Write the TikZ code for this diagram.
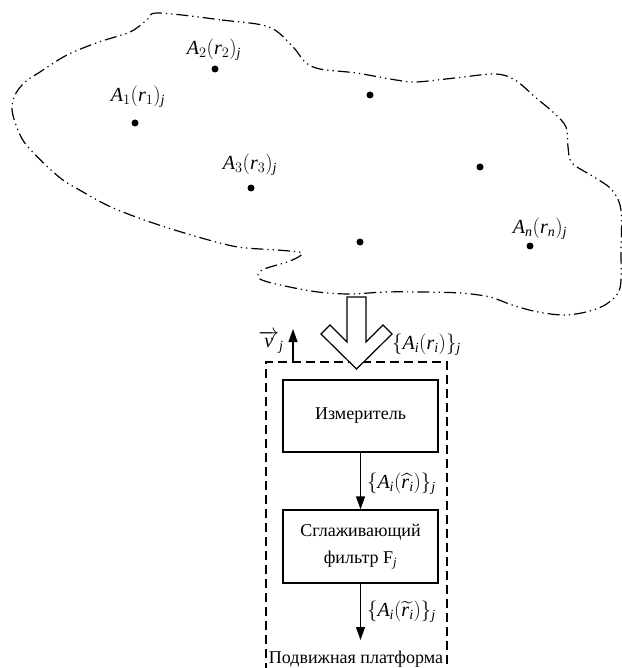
\documentclass[tikz,border=0pt]{standalone}
\usepackage{amsmath}
\usepackage{fontspec}
\setmainfont{Liberation Serif}
\usetikzlibrary{arrows.meta, positioning, calc}
\newcommand{\ti}[1]{\text{\itshape #1}}

\begin{document}
\begin{tikzpicture}[
  x=1pt, y=-1pt,
  >={Triangle[length=13pt, width=9pt]},
  font=\fontsize{18}{27}\selectfont,
  blockbox/.style={draw, line width=1.3pt, minimum width=155pt, minimum height=72pt, align=center},
  spot/.style={circle, fill, inner sep=0pt, minimum size=7pt},
  flowline/.style={->, line width=1.3pt},
  mlabel/.style={font=\fontsize{20}{24}\selectfont, inner sep=1pt},
]

% Page
\useasboundingbox (0,0) rectangle (621,668);

% === Region with the points ===
\draw[line width=1.2pt, dash pattern=on 12pt off 4pt on 1.3pt off 4pt on 1.3pt off 4pt]
  plot[smooth cycle, tension=0.55] coordinates {
    (158,13) (222,20) (269,27) (293,47) (305,62) (320,69) (356,73)
    (396,80) (416,82) (455,78) (495,74) (515,80) (535,97) (554,113)
    (566,127) (568,147) (572,163) (594,177) (612,190) (621,210)
    (621,250) (620,288) (608,303) (590,311) (565,315) (538,312)
    (512,305) (490,297) (460,293) (420,292) (385,292) (350,294)
    (318,292) (285,286) (260,279) (262,270) (290,261) (302,253)
    (277,250) (238,247) (198,237) (150,222) (111,207) (83,192)
    (59,177) (28,147) (18,130) (12,110) (15,95) (25,82) (40,72)
    (67,55) (99,42) (130,32) (147,20)
  };

% Points
\node[spot] (p1) at (135,123) {};
\node[spot] (p2) at (215,69) {};
\node[spot] (p3) at (251,188) {};
\node[spot] (p4) at (370,95) {};
\node[spot] (p5) at (480,167) {};
\node[spot] (p6) at (360,242) {};
\node[spot] (pn) at (530,246) {};

\node[mlabel] (l1) at (138,97) {$\ti{A}_{1}(\ti{r}_{1})_{\ti{j}}$};
\node[mlabel] (l2) at (214,50) {$\ti{A}_{2}(\ti{r}_{2})_{\ti{j}}$};
\node[mlabel] (l3) at (250,165) {$\ti{A}_{3}(\ti{r}_{3})_{\ti{j}}$};
\node[mlabel] (ln) at (540,229) {$\ti{A}_{\ti{n}}(\ti{r}_{\ti{n}})_{\ti{j}}$};

% === Moving platform ===
\draw[line width=1.3pt, dash pattern=on 9pt off 5pt] (266,672) |- (447,362) -- (447,672);

% Hollow arrow into the platform
\draw[line width=1.2pt, fill=white] (347,297) -- (347,342) -- (330,325) -- (321,334)
  -- (356.5,369) -- (392,334) -- (383,325) -- (366,342) -- (366,297) -- cycle;
\node[mlabel, anchor=west] (inlab) at (391,345) {$\{\ti{A}_{\ti{i}}(\ti{r}_{\ti{i}})\}_{\ti{j}}$};

% Velocity
\coordinate (vbase) at (293,362);
\coordinate (vtip) at (293,329);
\draw[flowline] (vbase) -- (vtip);
\node[mlabel] (vlab) at (271,342) {$\overrightarrow{\ti{v}}_{\ti{j}}$};

% Blocks
\node[blockbox] (meter) at (360.5,416) {Измеритель};
\node[blockbox, minimum height=73pt] (filter) at (360.5,546.5) {Сглаживающий\\фильтр F$_{\ti{j}}$};
\coordinate (outend) at (360.5,640);

\draw[flowline] (meter) -- (filter)
  node[mlabel, midway, right=5pt, yshift=-3pt] {$\{\ti{A}_{\ti{i}}(\widehat{\ti{r}_{\ti{i}}})\}_{\ti{j}}$};
\draw[flowline] (filter) -- (outend)
  node[mlabel, midway, right=5pt] {$\{\ti{A}_{\ti{i}}(\widetilde{\ti{r}_{\ti{i}}})\}_{\ti{j}}$};

\node (platform) at (356,659) {Подвижная платформа};

\end{tikzpicture}
\end{document}
